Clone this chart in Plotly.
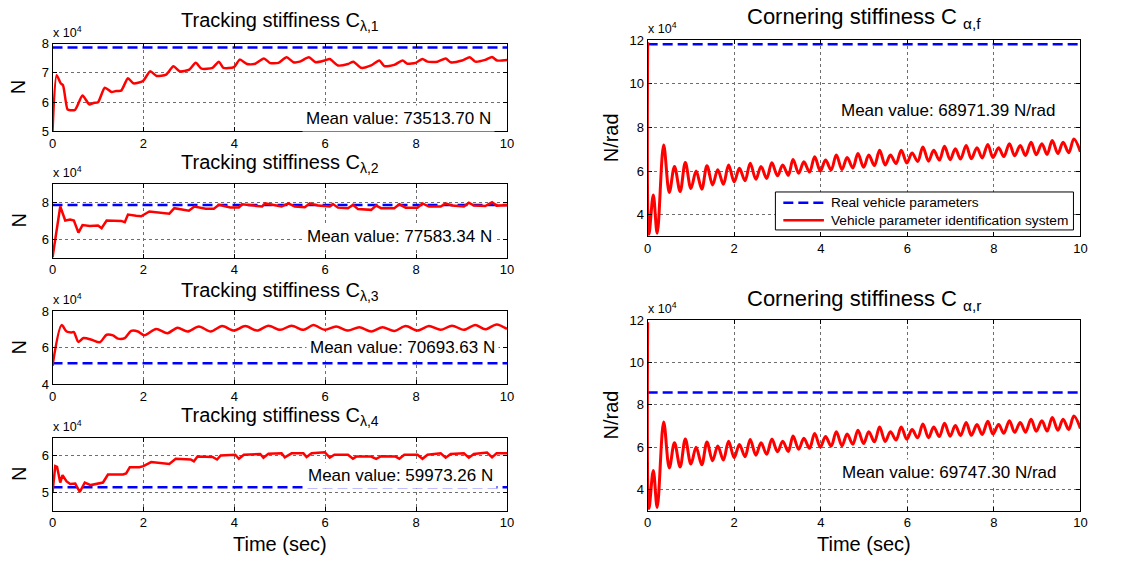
import plotly.graph_objects as go

# ---------------------------------------------------------------------------
# Data (stiffness values in units of 1e4)
# ---------------------------------------------------------------------------
t_ref = [0, 10]

# Tracking stiffness C_lambda,1
t_track1 = [0, 0.09, 0.18, 0.23, 0.33, 0.39, 0.50, 0.66, 0.81, 0.90, 1.00, 1.15, 1.30, 1.40,
            1.51, 1.66, 1.78, 1.99, 2.15, 2.29, 2.50, 2.66, 2.80, 3.01, 3.15, 3.28, 3.52,
            3.66, 3.76, 3.99, 4.12, 4.28, 4.46, 4.65, 4.79, 4.97, 5.15, 5.30, 5.44, 5.64,
            5.79, 5.99, 6.10, 6.28, 6.50, 6.62, 6.79, 7.01, 7.19, 7.30, 7.52, 7.70, 7.81,
            7.99, 8.14, 8.25, 8.47, 8.65, 8.76, 9.01, 9.18, 9.30, 9.52, 9.67, 9.78, 10.0]
c_track1 = [5.0, 6.92, 6.64, 6.58, 5.75, 5.72, 5.74, 6.22, 5.92, 5.97, 5.99, 6.49, 6.34, 6.38,
            6.39, 6.81, 6.64, 6.72, 7.05, 6.89, 6.94, 7.22, 7.05, 7.11, 7.34, 7.14, 7.17,
            7.38, 7.17, 7.19, 7.45, 7.30, 7.31, 7.49, 7.33, 7.34, 7.53, 7.36, 7.38, 7.53,
            7.36, 7.42, 7.47, 7.25, 7.30, 7.38, 7.17, 7.25, 7.42, 7.23, 7.27, 7.42, 7.31,
            7.34, 7.47, 7.38, 7.38, 7.49, 7.36, 7.42, 7.53, 7.38, 7.44, 7.54, 7.42, 7.44]
real_track1 = 7.86

# Tracking stiffness C_lambda,2
t_track2 = [0, 0.17, 0.28, 0.39, 0.47, 0.57, 0.66, 0.82, 1.00, 1.08, 1.19, 1.33, 1.51, 1.59,
            1.66, 1.84, 1.95, 2.13, 2.39, 2.57, 2.68, 2.86, 3.00, 3.12, 3.37, 3.55, 3.66,
            3.91, 4.10, 4.17, 4.46, 4.61, 4.68, 4.90, 5.04, 5.19, 5.33, 5.55, 5.66, 5.84,
            6.10, 6.17, 6.28, 6.50, 6.61, 6.72, 7.01, 7.12, 7.23, 7.52, 7.63, 7.77, 8.03,
            8.14, 8.28, 8.54, 8.65, 8.79, 9.05, 9.16, 9.27, 9.52, 9.67, 9.77, 10.0]
c_track2 = [5.0, 7.77, 7.01, 7.06, 7.01, 6.35, 6.76, 6.71, 6.74, 6.59, 7.01, 6.99, 6.99, 6.92,
            7.33, 7.27, 7.24, 7.50, 7.41, 7.38, 7.68, 7.59, 7.54, 7.77, 7.65, 7.65, 7.86,
            7.72, 7.72, 7.89, 7.82, 7.77, 7.94, 7.82, 7.77, 7.94, 7.77, 7.73, 7.94, 7.82,
            7.77, 7.91, 7.71, 7.68, 7.86, 7.63, 7.59, 7.82, 7.68, 7.68, 7.89, 7.71, 7.71,
            7.94, 7.77, 7.77, 7.94, 7.82, 7.77, 7.98, 7.82, 7.80, 8.00, 7.82, 7.84]
real_track2 = 7.86

# Tracking stiffness C_lambda,3
t_track3 = [0, 0.20, 0.31, 0.42, 0.47, 0.57, 0.68, 0.86, 1.04, 1.19, 1.33, 1.44, 1.59, 1.73,
            1.88, 2.02, 2.28, 2.53, 2.75, 2.97, 3.22, 3.48, 3.73, 3.99, 4.24, 4.50, 4.75,
            5.01, 5.26, 5.52, 5.74, 5.99, 6.24, 6.50, 6.75, 7.01, 7.26, 7.52, 7.77, 8.03,
            8.28, 8.54, 8.79, 9.05, 9.30, 9.52, 9.77, 10.0]
c_track3 = [5.0, 7.23, 6.88, 6.83, 6.85, 6.31, 6.52, 6.43, 6.29, 6.70, 6.67, 6.49, 6.52, 6.91,
            6.88, 6.67, 7.02, 6.79, 7.09, 6.88, 7.15, 6.88, 7.18, 6.93, 7.18, 6.93, 7.20,
            6.97, 7.20, 6.97, 7.23, 6.97, 7.15, 6.93, 7.11, 6.88, 7.11, 6.91, 7.18, 6.93,
            7.18, 6.97, 7.20, 6.97, 7.23, 7.00, 7.27, 7.02]
real_track3 = 5.14

# Tracking stiffness C_lambda,4
t_track4 = [0, 0.06, 0.10, 0.17, 0.22, 0.31, 0.39, 0.50, 0.60, 0.71, 0.84, 1.04, 1.11, 1.22,
            1.55, 1.62, 1.70, 1.91, 2.00, 2.17, 2.57, 2.71, 3.04, 3.11, 3.19, 3.52, 3.62,
            3.70, 4.02, 4.10, 4.21, 4.57, 4.64, 4.75, 5.04, 5.11, 5.26, 5.52, 5.59, 5.70,
            5.99, 6.10, 6.20, 6.50, 6.61, 6.68, 7.01, 7.12, 7.23, 7.55, 7.63, 7.74, 8.03,
            8.14, 8.25, 8.54, 8.65, 8.76, 9.05, 9.16, 9.27, 9.56, 9.67, 9.77, 10.0]
c_track4 = [5.0, 5.72, 5.70, 5.27, 5.47, 5.30, 5.23, 5.24, 5.01, 5.27, 5.20, 5.25, 5.27, 5.49,
            5.49, 5.52, 5.69, 5.69, 5.72, 5.83, 5.78, 5.92, 5.90, 5.85, 5.98, 5.97, 5.90,
            6.01, 6.03, 5.92, 6.03, 6.05, 5.95, 6.06, 6.07, 5.96, 6.07, 6.07, 5.97, 6.07,
            6.10, 5.95, 6.03, 6.03, 5.92, 5.98, 5.98, 5.92, 5.99, 5.98, 5.92, 6.03, 6.03,
            5.92, 6.03, 6.07, 5.95, 6.05, 6.07, 5.95, 6.05, 6.09, 5.96, 6.07, 6.07]
real_track4 = 5.14

# Cornering stiffness C_alpha,f
t_corner_f = [0, 0.03, 0.13, 0.22,
              0.37, 0.50, 0.62, 0.75, 0.87, 1.00, 1.12, 1.25, 1.37, 1.50, 1.62, 1.75,
              1.87, 2.00, 2.12, 2.25, 2.37, 2.50, 2.62, 2.75, 2.87, 3.00, 3.12, 3.25,
              3.36, 3.49, 3.61, 3.74, 3.86, 3.99, 4.11, 4.24, 4.36, 4.49, 4.61, 4.74,
              4.86, 4.99, 5.11, 5.24, 5.36, 5.49, 5.61, 5.74, 5.86, 5.99, 6.11, 6.24,
              6.36, 6.49, 6.61, 6.74, 6.86, 6.99, 7.11, 7.23, 7.36, 7.48, 7.61, 7.73,
              7.86, 7.98, 8.11, 8.23, 8.36, 8.48, 8.61, 8.73, 8.86, 8.98, 9.11, 9.23,
              9.35, 9.48, 9.60, 9.73, 9.85, 10.0]
c_corner_f = [11.9, 3.1, 4.9, 3.15,
              7.19, 5.02, 6.21, 5.06, 6.39, 5.20, 6.00, 5.17, 6.24, 5.36, 6.06, 5.39,
              6.28, 5.50, 6.13, 5.55, 6.36, 5.62, 6.21, 5.66, 6.38, 5.78, 6.28, 5.80,
              6.53, 5.90, 6.42, 5.95, 6.65, 6.00, 6.50, 6.05, 6.73, 6.07, 6.62, 6.14,
              6.80, 6.17, 6.73, 6.25, 6.95, 6.27, 6.73, 6.34, 6.95, 6.37, 6.83, 6.44,
              7.10, 6.45, 6.95, 6.50, 7.13, 6.52, 7.02, 6.55, 7.17, 6.56, 7.07, 6.60,
              7.22, 6.62, 7.07, 6.66, 7.25, 6.70, 7.17, 6.71, 7.32, 6.75, 7.25, 6.76,
              7.40, 6.80, 7.32, 6.84, 7.47, 6.88]
real_corner_f = 11.81

# Cornering stiffness C_alpha,r
t_corner_r = [0, 0.03, 0.13, 0.22,
              0.37, 0.50, 0.62, 0.75, 0.87, 1.00, 1.12, 1.25, 1.37, 1.50, 1.62, 1.75,
              1.87, 2.00, 2.12, 2.25, 2.37, 2.50, 2.62, 2.75, 2.87, 3.00, 3.12, 3.25,
              3.36, 3.49, 3.61, 3.74, 3.86, 3.99, 4.11, 4.24, 4.36, 4.49, 4.61, 4.74,
              4.86, 4.99, 5.11, 5.24, 5.36, 5.49, 5.61, 5.74, 5.86, 5.99, 6.11, 6.24,
              6.36, 6.49, 6.61, 6.74, 6.86, 6.99, 7.11, 7.23, 7.36, 7.48, 7.61, 7.73,
              7.86, 7.98, 8.11, 8.23, 8.36, 8.48, 8.61, 8.73, 8.86, 8.98, 9.11, 9.23,
              9.35, 9.48, 9.60, 9.73, 9.85, 10.0]
c_corner_r = [11.9, 3.1, 4.9, 3.15,
              7.19, 5.02, 6.21, 5.06, 6.39, 5.20, 6.00, 5.17, 6.24, 5.36, 6.06, 5.39,
              6.28, 5.50, 6.13, 5.55, 6.36, 5.62, 6.21, 5.66, 6.38, 5.78, 6.28, 5.80,
              6.53, 5.90, 6.42, 5.95, 6.65, 6.00, 6.50, 6.05, 6.73, 6.07, 6.62, 6.14,
              6.80, 6.17, 6.73, 6.25, 6.95, 6.27, 6.73, 6.34, 6.95, 6.37, 6.83, 6.44,
              7.10, 6.45, 6.95, 6.50, 7.13, 6.52, 7.02, 6.55, 7.17, 6.56, 7.07, 6.60,
              7.22, 6.62, 7.07, 6.66, 7.25, 6.70, 7.17, 6.71, 7.32, 6.75, 7.25, 6.76,
              7.40, 6.80, 7.32, 6.84, 7.47, 6.88]
real_corner_r = 8.58

mean_labels = ["Mean value: 73513.70 N", "Mean value: 77583.34 N",
               "Mean value: 70693.63 N", "Mean value: 59973.26 N",
               "Mean value: 68971.39 N/rad", "Mean value: 69747.30 N/rad"]
titles = ["Tracking stiffiness C<sub>λ,1</sub>", "Tracking stiffiness C<sub>λ,2</sub>",
          "Tracking stiffiness C<sub>λ,3</sub>", "Tracking stiffiness C<sub>λ,4</sub>",
          "Cornering stiffiness C <sub>α,f</sub>", "Cornering stiffiness C <sub>α,r</sub>"]
legend_names = ["Real vehicle parameters", "Vehicle parameter identification system"]

# ---------------------------------------------------------------------------
# Layout helpers (pixel -> paper coordinates)
# ---------------------------------------------------------------------------
W, H = 1128, 568
FONT = "Liberation Sans, Arial, sans-serif"
BLUE, RED = "#0000ff", "#ff0000"
DASH = "10px,5px"


def px(x):
    return x / W


def py(y):
    return 1 - y / H


# panel boxes in pixels: (left, right, top, bottom), y range, y ticks
panels = [
    dict(box=(49, 508, 37.5, 127.7), yr=[5, 8], yt=[5, 6, 7, 8]),
    dict(box=(49, 508, 181.7, 257.3), yr=[5, 9], yt=[6, 8]),
    dict(box=(49, 508, 312.3, 387.3), yr=[4, 8], yt=[4, 6, 8]),
    dict(box=(49, 508, 442.3, 517.3), yr=[4.5, 6.5], yt=[5, 6]),
    dict(box=(650, 1087, 34, 235.7), yr=[3, 12], yt=[4, 6, 8, 10, 12]),
    dict(box=(650, 1087, 321.7, 517.3), yr=[3, 12], yt=[4, 6, 8, 10, 12]),
]

series = [
    (t_track1, c_track1, real_track1, dict(shape="spline", smoothing=0.6), 2.5),
    (t_track2, c_track2, real_track2, dict(shape="linear"), 2.5),
    (t_track3, c_track3, real_track3, dict(shape="spline", smoothing=0.8), 2.5),
    (t_track4, c_track4, real_track4, dict(shape="linear"), 2.5),
    (t_corner_f, c_corner_f, real_corner_f, dict(shape="spline", smoothing=1.0), 3),
    (t_corner_r, c_corner_r, real_corner_r, dict(shape="spline", smoothing=1.0), 3),
]

# mean label centres and title heights (pixels)
mean_pos = [(398, 115), (399, 236), (402, 350), (400, 481), (954, 106), (955, 478)]
title_y = [15, 161, 292, 421, 11, 301]

fig = go.Figure()
layout = dict(
    width=W, height=H, margin=dict(l=0, r=0, t=0, b=0),
    paper_bgcolor="white", plot_bgcolor="white",
    font=dict(family=FONT, color="black", size=13),
    showlegend=False,
    annotations=[], shapes=[],
)

for i, (p, (tx, cy, real, lshape, lw)) in enumerate(zip(panels, series)):
    n = "" if i == 0 else str(i + 1)
    left, right, top, bottom = p["box"]
    xa, ya = "x" + n, "y" + n

    fig.add_trace(go.Scatter(
        x=t_ref, y=[real, real], xaxis=xa, yaxis=ya, mode="lines",
        line=dict(color=BLUE, width=2.5, dash=DASH),
        name=legend_names[0], hoverinfo="skip"))
    fig.add_trace(go.Scatter(
        x=tx, y=cy, xaxis=xa, yaxis=ya, mode="lines",
        line=dict(color=RED, width=lw, **lshape),
        name=legend_names[1], hoverinfo="skip"))

    common = dict(
        showline=True, linecolor="black", linewidth=1, mirror="ticks",
        ticks="inside", ticklen=4, tickcolor="black",
        showgrid=True, gridcolor="#6e6e6e", gridwidth=1, griddash="dot",
        zeroline=False, tickfont=dict(family=FONT, size=13, color="black"),
        fixedrange=True,
    )
    layout["xaxis" + n] = dict(
        domain=[px(left), px(right)], anchor=ya, range=[0, 10],
        tickvals=[0, 2, 4, 6, 8, 10], **common)
    layout["yaxis" + n] = dict(
        domain=[py(bottom), py(top)], anchor=xa, range=p["yr"],
        tickvals=p["yt"], **common)

    cx = (left + right) / 2
    cyy = (top + bottom) / 2
    big = i >= 4
    anns = layout["annotations"]
    # panel title
    anns.append(dict(
        text=titles[i], x=px(cx), y=py(title_y[i]), xref="paper", yref="paper",
        xanchor="center", yanchor="middle", showarrow=False,
        font=dict(family=FONT, size=22 if big else 20, color="black")))
    # exponent marker
    anns.append(dict(
        text="x 10<sup>4</sup>", x=px(left - 2), y=py(top - 2), xref="paper", yref="paper",
        xanchor="left", yanchor="bottom", showarrow=False,
        font=dict(family=FONT, size=12.5, color="black")))
    # y axis title
    anns.append(dict(
        text="N/rad" if big else "N", x=px(613 if big else 15), y=py(cyy),
        xref="paper", yref="paper", xanchor="center", yanchor="middle",
        textangle=-90, showarrow=False,
        font=dict(family=FONT, size=20, color="black")))
    # mean value label
    mx, my = mean_pos[i]
    anns.append(dict(
        text=mean_labels[i], x=px(mx), y=py(my), xref="paper", yref="paper",
        xanchor="center", yanchor="middle", showarrow=False,
        bgcolor="white", borderpad=3,
        font=dict(family=FONT, size=17, color="black")))
    # x axis title on bottom panels
    if i in (3, 5):
        anns.append(dict(
            text="Time (sec)", x=px(cx), y=py(552), xref="paper", yref="paper",
            xanchor="center", yanchor="middle", showarrow=False,
            font=dict(family=FONT, size=20, color="black")))

# legend box inside the front cornering-stiffness panel
leg_l, leg_r, leg_t, leg_b = 779, 1080, 190, 229
leg_rows = [201, 219]
layout["shapes"].append(dict(
    type="rect", xref="paper", yref="paper",
    x0=px(leg_l), x1=px(leg_r), y0=py(leg_b), y1=py(leg_t),
    line=dict(color="black", width=1), fillcolor="white", layer="above"))
for name, colr, dash, row in zip(legend_names, [BLUE, RED], [DASH, "solid"], leg_rows):
    layout["shapes"].append(dict(
        type="line", xref="paper", yref="paper",
        x0=px(787), x1=px(828), y0=py(row), y1=py(row),
        line=dict(color=colr, width=2.5, dash=dash), layer="above"))
    layout["annotations"].append(dict(
        text=name, x=px(833), y=py(row), xref="paper", yref="paper",
        xanchor="left", yanchor="middle", showarrow=False,
        font=dict(family=FONT, size=13.7, color="black")))

fig.update_layout(**layout)
fig.write_html("out.html")
